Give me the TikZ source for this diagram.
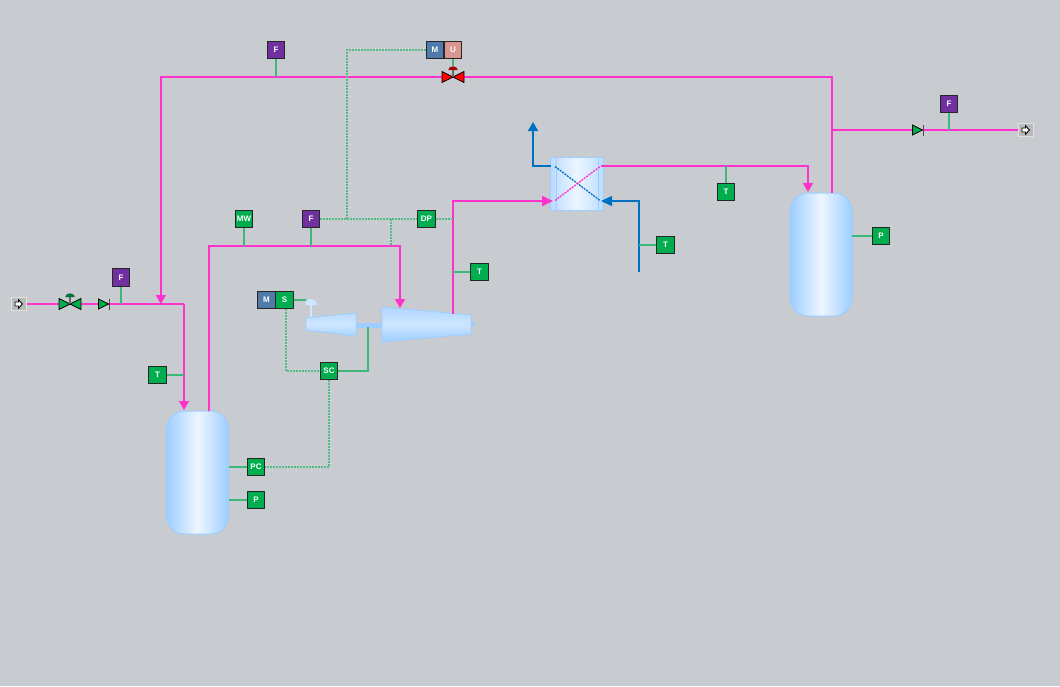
\documentclass[tikz,border=0pt]{standalone}
\usepackage{fontspec}
\setmainfont{Liberation Sans}
\usetikzlibrary{arrows.meta,calc}
\definecolor{bgc}{HTML}{C8CBCF}
\definecolor{pipe}{HTML}{FF33CC}
\definecolor{wat}{HTML}{0070C0}
\definecolor{sig}{HTML}{3DB878}
\definecolor{sigp}{HTML}{55BC88}
\definecolor{grn}{HTML}{00AE50}
\definecolor{prp}{HTML}{7030A0}
\definecolor{mblue}{HTML}{4F7BAB}
\definecolor{upink}{HTML}{D99690}
\definecolor{vesl}{HTML}{9DCEFF}
\definecolor{vesm}{HTML}{EDF6FF}
\tikzset{
  x=1pt,y=-1pt,
  inst/.style={draw=black!85,line width=1.1pt,minimum size=17.5pt,inner sep=0pt,text=white,font=\bfseries\fontsize{8}{8}\selectfont},
  gi/.style={inst,fill=grn},
  pi/.style={inst,fill=prp},
  mi/.style={inst,fill=mblue},
  ui/.style={inst,fill=upink},
  vessel/.style={draw=vesl,line width=1pt,rounded corners=18pt,inner sep=0pt,left color=vesl,right color=vesl,middle color=vesm},
  line1/.style={pipe,line width=1.5pt},
  arr/.style={-{Triangle[length=9pt,width=10pt]}},
  arrl/.style={-{Triangle[length=11pt,width=10pt]}},
  water/.style={wat,line width=1.5pt},
  sigl/.style={sig,line width=1.2pt},
  sigd/.style={sigp,line width=1.1pt,dash pattern=on 2pt off 1pt},
  valvef/.style={draw=black,line width=.8pt,line join=miter},
  term/.style={draw=black!12,fill=black!27,line width=1pt,minimum width=15pt,minimum height=13pt,inner sep=0pt},
}
\newcommand{\bowv}[2]{%
  \draw[valvef,fill=#2] ($(#1)+(-11,-5.5)$) -- (#1) -- ($(#1)+(-11,5.5)$) -- cycle;
  \draw[valvef,fill=#2] ($(#1)+(11,-5.5)$) -- (#1) -- ($(#1)+(11,5.5)$) -- cycle;
  \draw[black!60,line width=1.1pt] (#1) -- ++(0,-7);
  \fill[#2!65!black] ($(#1)+(-4.7,-7)$) arc[start angle=180,end angle=360,x radius=4.7,y radius=3.7] -- cycle;
}
\newcommand{\chkv}[1]{%
  \draw[valvef,fill=grn] ($(#1)+(-5.5,-5)$) -- ($(#1)+(4.5,0)$) -- ($(#1)+(-5.5,5)$) -- cycle;
  \draw[black!70,line width=1pt] ($(#1)+(5.5,-5.5)$) -- ($(#1)+(5.5,5.5)$);
}
\newcommand{\termg}[1]{%
  \draw[black,line width=.9pt,fill=white] ($(#1)+(-3.5,-2)$) -- ($(#1)+(0,-2)$) -- ($(#1)+(0,-4.2)$) -- ($(#1)+(4,0)$) -- ($(#1)+(0,4.2)$) -- ($(#1)+(0,2)$) -- ($(#1)+(-3.5,2)$) -- cycle;
}
\begin{document}
\begin{tikzpicture}
\fill[bgc] (0,0) rectangle (1060,686);
\useasboundingbox (0,0) rectangle (1060,686);

% equipment
\node[vessel,minimum width=62pt,minimum height=123pt] (v1) at (197.5,472.5) {};
\node[vessel,minimum width=62pt,minimum height=123pt] (v2) at (821,254.5) {};
\node[term] (src) at (18.5,304) {};
\node[term] (snk) at (1025.5,130) {};
\coordinate (mv) at (70,304);
\coordinate (rv) at (453,77);
\coordinate (ck1) at (104,304);
\coordinate (ck2) at (918,130);

% heat exchanger
\node[draw=vesl,line width=1pt,minimum width=53pt,minimum height=53pt,inner sep=0pt,left color=vesl!70,right color=vesl!70,middle color=vesm] (hx) at (577,183.5) {};
\draw[vesl,line width=1pt] (556,157) -- (556,210) (598,157) -- (598,210);

% turbine / compressor
\fill[vesl] (355,322.5) rectangle (382,327.5);
\fill[vesl] (470,322) rectangle (475,327);
\draw[vesl,line width=.8pt,top color=vesl!70!white,bottom color=vesl!90!white,middle color=vesm!60!vesl] (306,318) -- (356,313) -- (356,336) -- (306,330) -- cycle;
\draw[vesl,line width=.8pt,top color=vesl!80!white,bottom color=vesl,middle color=vesm!60!vesl] (382,307) -- (471,315) -- (471,334) -- (382,342) -- cycle;
\draw[vesl!50!white,line width=1.3pt] (311,305) -- (311,317);
\fill[vesl!50!white] (305,305) arc[start angle=180,end angle=360,radius=6] -- cycle;
\coordinate (shaft) at (368,327);
\coordinate (gov) at (306,300);

% junction coordinates
\coordinate (topr) at (832,77);
\coordinate (v2out) at (832,193);
\coordinate (topl) at (160.8,77);
\coordinate (join) at (160.8,304);
\coordinate (feedc) at (184,304);
\coordinate (v1in) at (184,410);
\coordinate (v1out) at (208.8,411);
\coordinate (up1) at (208.8,246);
\coordinate (hdr) at (400,246);
\coordinate (tin) at (400,308);
\coordinate (tout) at (453,314);
\coordinate (up2) at (453,201);
\coordinate (hxin) at (553,201);
\coordinate (hxout) at (601,166);
\coordinate (c3) at (808,166);
\coordinate (v2in) at (808,192);
\coordinate (br) at (832,130);
\coordinate (cwin) at (639,272);
\coordinate (cwc) at (639,201);
\coordinate (cwe) at (601,201);
\coordinate (cwo) at (551,166);
\coordinate (cwc2) at (533,166);
\coordinate (cwt) at (533,122);
\coordinate (xa) at (555,166.5);
\coordinate (xb) at (600,200.5);
\coordinate (xc) at (555,200.5);
\coordinate (xd) at (600,166.5);

% pipes
\draw[line1,arr] (v2out) -- (topr) -- (topl) -- (join);
\draw[line1] (br) -- (snk.west);
\draw[line1] (src.east) -- (feedc);
\draw[line1,arr] (feedc) -- (v1in);
\draw[line1,arr] (v1out) -- (up1) -- (hdr) -- (tin);
\draw[line1,arrl] (tout) -- (up2) -- (hxin);
\draw[line1,arr] (hxout) -- (c3) -- (v2in);
\draw[water,arrl] (cwin) -- (cwc) -- (cwe);
\draw[water,arr] (cwo) -- (cwc2) -- (cwt);
\draw[wat,line width=1.3pt,dash pattern=on 2pt off 1pt] (xa) -- (xb);
\draw[pipe,line width=1.3pt,dash pattern=on 2pt off 1pt] (xc) -- (xd);

% instruments
\node[pi] (f1) at (276,50) {F};
\node[mi] (m1) at (435,50) {M};
\node[ui] (u1) at (453,50) {U};
\node[pi] (f2) at (949,104) {F};
\node[pi] (f3) at (121,277.5) {F};
\node[gi] (t1) at (157.5,375) {T};
\node[gi] (pc) at (256,467) {PC};
\node[gi] (p1) at (256,500) {P};
\node[gi] (sc) at (329,371) {SC};
\node[mi] (m2) at (266.5,300) {M};
\node[gi] (s1) at (284.5,300) {S};
\node[gi] (mw) at (244,219) {MW};
\node[pi] (f4) at (311,219) {F};
\node[gi] (dp) at (426.5,219) {DP};
\node[gi] (t2) at (479.5,272) {T};
\node[gi] (t3) at (726,192) {T};
\node[gi] (t4) at (665.5,245) {T};
\node[gi] (p2) at (881,236) {P};

% signal taps
\coordinate (a1) at (276,77);
\coordinate (a2) at (949,130);
\coordinate (a3) at (121,304);
\coordinate (a4) at (184,375);
\coordinate (a5) at (244,246);
\coordinate (a6) at (311,246);
\coordinate (a7) at (391,246);
\coordinate (a8) at (391,219);
\coordinate (a9) at (347,219);
\coordinate (a10) at (347,50);
\coordinate (a11) at (453,219);
\coordinate (a12) at (453,272);
\coordinate (a13) at (726,166);
\coordinate (a14) at (639,245);
\coordinate (a15) at (852,236);
\coordinate (a16) at (229,467);
\coordinate (a17) at (229,500);
\coordinate (a18) at (329,467);
\coordinate (a19) at (286,371);
\coordinate (a20) at (286,309);
\coordinate (a21) at (368,371);
\coordinate (a22) at (453,66);

\draw[sigl] (f1) -- (a1);
\draw[sigl] (f2) -- (a2);
\draw[sigl] (f3) -- (a3);
\draw[sigl] (t1) -- (a4);
\draw[sigl] (mw) -- (a5);
\draw[sigl] (f4) -- (a6);
\draw[sigl] (t2) -- (a12);
\draw[sigl] (t3) -- (a13);
\draw[sigl] (t4) -- (a14);
\draw[sigl] (p2) -- (a15);
\draw[sigl] (pc) -- (a16);
\draw[sigl] (p1) -- (a17);
\draw[sigl] (s1) -- (gov);
\draw[sigl] (sc.east) -- (a21) -- (shaft);
\draw[sigl] (u1) -- (a22);
\draw[sigd] (f4) -- (dp);
\draw[sigd] (dp) -- (a11);
\draw[sigd] (a8) -- (a7);
\draw[sigd] (a9) -- (a10) -- (m1);
\draw[sigd] (sc.south) -- (a18) -- (pc);
\draw[sigd] (a20) -- (a19) -- (sc);

% valves
\bowv{mv}{grn}
\bowv{rv}{red}
\chkv{ck1}
\chkv{ck2}
\termg{src}
\termg{snk}
\end{tikzpicture}
\end{document}
